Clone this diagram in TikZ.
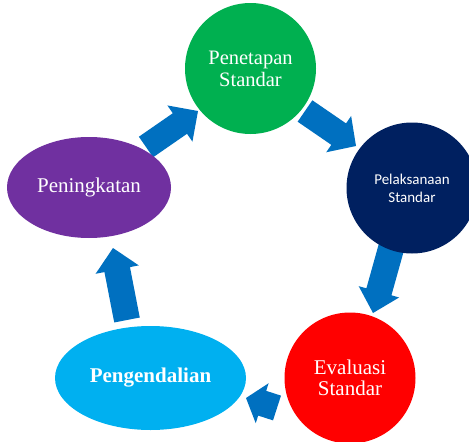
\documentclass[tikz,border=0pt]{standalone}
\usepackage{fontspec}
\setmainfont{Liberation Serif}
\newfontfamily\calibfont{Carlito}
\usetikzlibrary{calc,shapes.geometric}
\definecolor{cgreen}{HTML}{00B050}
\definecolor{cnavy}{HTML}{002060}
\definecolor{cred}{HTML}{FF0000}
\definecolor{cpurple}{HTML}{7030A0}
\definecolor{ccyan}{HTML}{00B0F0}
\definecolor{arrowblue}{HTML}{0070C0}
\newcommand\blockarrow[5]{%
  \coordinate (abase) at ($(#2)!#5!(#1)$);
  \fill[arrowblue] ($(#1)!#3!90:(#2)$) -- ($(abase)!#3!90:(#2)$) -- ($(abase)!#4!90:(#2)$) -- (#2)
    -- ($(abase)!#4!-90:(#2)$) -- ($(abase)!#3!-90:(#2)$) -- ($(#1)!#3!-90:(#2)$) -- cycle;}
\begin{document}
\begin{tikzpicture}[x=1pt,y=-1pt,
  bubble/.style={circle, inner sep=0pt, minimum size=131pt, align=center, text=white},
  oval/.style={ellipse, inner sep=0pt, align=center, text=white},
  serifbig/.style={font=\fontsize{20.5}{22}\selectfont}]
\useasboundingbox (0,0) rectangle (469,442);
% arrow anchor coordinates
\coordinate (a1t) at (146,147); \coordinate (a1h) at (198,111);
\coordinate (a2t) at (305,111); \coordinate (a2h) at (356,146);
\coordinate (a3t) at (392,245); \coordinate (a3h) at (373,313);
\coordinate (a4t) at (277,408); \coordinate (a4h) at (246,398);
\coordinate (a5t) at (127,320); \coordinate (a5h) at (113,248);
\blockarrow{a1t}{a1h}{12.5pt}{22pt}{22pt}
\blockarrow{a2t}{a2h}{13pt}{22pt}{21pt}
\blockarrow{a3t}{a3h}{13pt}{21pt}{22pt}
\blockarrow{a4t}{a4h}{13pt}{21pt}{17pt}
\blockarrow{a5t}{a5h}{13pt}{22pt}{22pt}
% nodes
\node[bubble, fill=cgreen, serifbig] (pen) at (250.5,68.5) {Penetapan\\Standar};
\node[bubble, fill=cnavy, font=\calibfont\fontsize{15}{18}\selectfont] (pel) at (412,188) {Pelaksanaan\\Standar};
\node[bubble, fill=cred, font=\fontsize{21}{21.5}\selectfont] (eva) at (350,378) {Evaluasi\\Standar};
\node[oval, fill=cpurple, minimum width=164pt, minimum height=101pt, font=\fontsize{21}{22}\selectfont] (pen2) at (89,187.5) {Peningkatan};
\node[oval, fill=ccyan, minimum width=191pt, minimum height=104pt, font=\bfseries\fontsize{21}{22}\selectfont] (pgd) at (150.5,378) {Pengendalian};
\end{tikzpicture}
\end{document}
